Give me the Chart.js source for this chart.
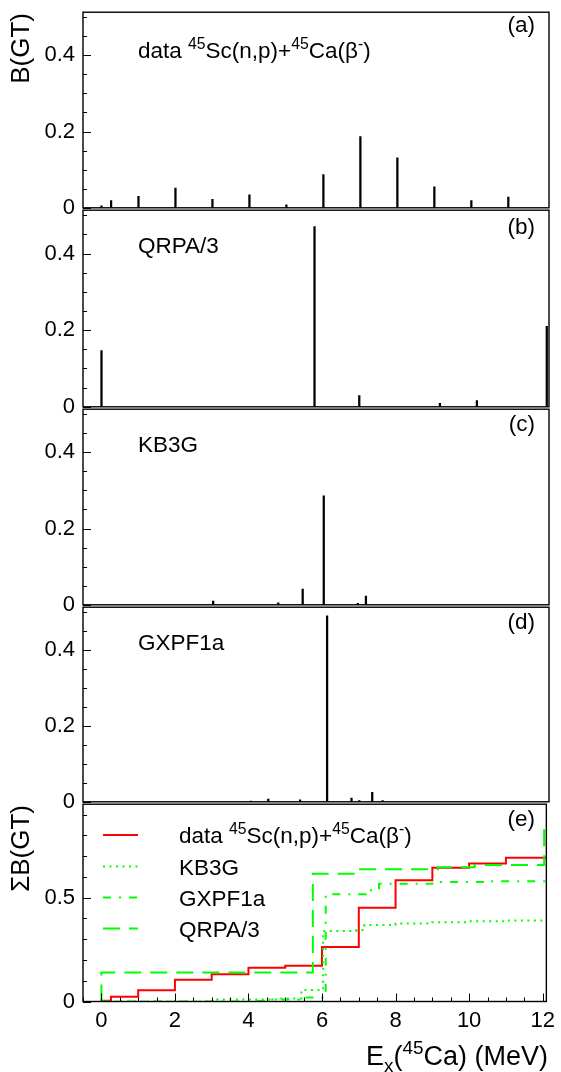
<!DOCTYPE html>
<html><head><meta charset="utf-8">
<script src="https://cdn.jsdelivr.net/npm/chart.js@4.4.1/dist/chart.umd.min.js"></script>
<style>
html,body{margin:0;padding:0;background:#fff;}
#wrap{position:relative;width:561px;height:1072px;overflow:hidden;background:#fff;}
#wrap canvas{position:absolute;left:0;}
</style></head><body><div id="wrap"></div>
<script>
// ---------------- data ----------------
// (a) measured 45Sc(n,p)+45Ca(beta-) B(GT)
const dataEx  = [0.0, 0.26, 1.0, 2.0, 3.0, 4.0, 5.0, 6.0, 7.0, 8.0, 9.0, 10.0, 11.0];
const dataBGT = [0.005, 0.019, 0.030, 0.052, 0.022, 0.034, 0.008, 0.087, 0.187, 0.131, 0.055, 0.019, 0.028];
// (b) QRPA/3
const qrpaEx  = [0.0, 5.76, 6.97, 9.15, 10.15, 12.04];
const qrpaBGT = [0.147, 0.470, 0.029, 0.009, 0.016, 0.210];
// (c) KB3G
const kb3gEx  = [3.02, 4.78, 5.44, 6.01, 6.93, 7.15];
const kb3gBGT = [0.010, 0.005, 0.041, 0.286, 0.004, 0.023];
// (d) GXPF1a
const gxpfEx  = [4.04, 4.51, 5.37, 6.10, 6.76, 6.97, 7.32, 7.60];
const gxpfBGT = [0.002, 0.007, 0.005, 0.490, 0.010, 0.003, 0.025, 0.003];

// (e) running sums
const sumDataEx = [0, 0.26, 1, 2, 3, 4, 5, 6, 7, 8, 9, 10, 11, 12.1];
const sumDataB  = [0.004, 0.023, 0.054, 0.105, 0.131, 0.163, 0.172, 0.262, 0.452, 0.584, 0.644, 0.665, 0.692, 0.692];
const sumKb3gEx = [0, 3.02, 4.78, 5.44, 6.03, 6.93, 7.15, 8.0, 9.0, 10.0, 11.0, 12.1];
const sumKb3gB  = [0.0, 0.010, 0.015, 0.055, 0.340, 0.344, 0.368, 0.376, 0.382, 0.386, 0.390, 0.392];
const sumGxpfEx = [0, 4.04, 4.51, 5.37, 6.10, 7.20, 7.55, 9.0, 10.5, 12.1];
const sumGxpfB  = [0.0, 0.003, 0.010, 0.019, 0.516, 0.536, 0.567, 0.575, 0.579, 0.581];
const sumQrpaEx = [0, 0, 5.75, 6.97, 9.15, 10.15, 12.04];
const sumQrpaB  = [0, 0.140, 0.615, 0.637, 0.646, 0.657, 0.860];

// axes / ticks
const xRange = [-0.5, 12.1];
const xTickValues = [0, 2, 4, 6, 8, 10, 12];
const xTickLabels = ['0', '2', '4', '6', '8', '10', '12'];
const yRangeTop = 0.513;          // panels a-d
const yTickValues = [0, 0.2, 0.4];
const yTickLabels = ['0', '0.2', '0.4'];
const yRangeSum = 0.95;           // panel e
const ySumTickValues = [0, 0.5];
const ySumTickLabels = ['0', '0.5'];

// texts ([text, 0=normal 1=superscript -1=subscript])
const txtData   = [['data ',0],['45',1],['Sc(n,p)+',0],['45',1],['Ca(\u03B2',0],['-',1],[')',0]];
const txtQrpa   = [['QRPA/3',0]];
const txtKb3g   = [['KB3G',0]];
const txtGxpf   = [['GXPF1a',0]];
const panelTags = ['(a)','(b)','(c)','(d)','(e)'];
const yTitle    = [['B(GT)',0]];
const ySumTitle = [['\u03A3B(GT)',0]];
const xTitle    = [['E',0],['x',-1],['(',0],['45',1],['Ca) (MeV)',0]];
const legendNames = [txtData, [['KB3G',0]], [['GXPF1a',0]], [['QRPA/3',0]]];

// ---------------- drawing helpers ----------------
const FF = "'Liberation Sans', Arial, Helvetica, sans-serif";
const TICK_SIZE = 22, TEXT_SIZE = 22.5, YTITLE_SIZE = 26, XTITLE_SIZE = 27;
function richWidth(ctx, parts, size){
  let w = 0;
  for (const [t,s] of parts){ ctx.font = (s ? size*0.7 : size) + 'px ' + FF; w += ctx.measureText(t).width; }
  return w;
}
function drawRich(ctx, parts, x, y, size, align){
  let cx = align === 'right' ? x - richWidth(ctx, parts, size) : x;
  ctx.textAlign = 'left'; ctx.textBaseline = 'alphabetic'; ctx.fillStyle = '#000';
  for (const [t,s] of parts){
    const fs = s ? size*0.7 : size;
    ctx.font = fs + 'px ' + FF;
    const dy = s === 1 ? -size*0.42 : (s === -1 ? size*0.25 : 0);
    ctx.fillText(t, cx, y + dy);
    cx += ctx.measureText(t).width;
  }
}

const framePlugin = {
  id: 'frame',
  afterDatasetsDraw(chart, args, o){
    const {ctx, chartArea: a} = chart;
    const x = chart.scales.x, y = chart.scales.y;
    const off = o.canvasTop;
    ctx.save();
    ctx.strokeStyle = '#000'; ctx.lineWidth = 1.4; ctx.setLineDash([]);
    ctx.strokeRect(a.left, a.top, a.right - a.left, a.bottom - a.top);
    ctx.lineWidth = 1;
    ctx.beginPath();
    for (let k = 0; k * o.yMinor <= y.max + 1e-9; k++){
      const v = k * o.yMinor;
      const major = o.yMajor.some(m => Math.abs(m - v) < 1e-6);
      const py = Math.round(y.getPixelForValue(v)) + 0.5;
      ctx.moveTo(a.left, py); ctx.lineTo(a.left + (major ? 8 : 4), py);
    }
    if (o.xTicks){
      for (let k = 0; xRange[0] + k*0.5 <= xRange[1] + 1e-9; k++){
        const v = xRange[0] + k*0.5;
        const major = xTickValues.some(m => Math.abs(m - v) < 1e-6);
        const px = Math.round(x.getPixelForValue(v)) + 0.5;
        ctx.moveTo(px, a.bottom); ctx.lineTo(px, a.bottom - (major ? 8 : 4));
      }
    }
    ctx.stroke();
    // texts
    if (o.label) drawRich(ctx, o.label, 138, o.labelY - off, TEXT_SIZE);
    drawRich(ctx, [[o.tag,0]], 535, o.tagY - off, TEXT_SIZE, 'right');
    if (o.ytitle){
      ctx.save(); ctx.translate(29, o.ytitleEnd - off); ctx.rotate(-Math.PI/2);
      drawRich(ctx, o.ytitle, 0, 0, YTITLE_SIZE, 'right'); ctx.restore();
    }
    if (o.xtitle) drawRich(ctx, o.xtitle, 548, 1065 - off, XTITLE_SIZE, 'right');
    if (o.legend){
      const rows = [835, 866.5, 897.5, 928.5];
      chart.data.datasets.forEach((ds) => {
        const r = ds.legendRow;
        const ry = rows[r] - off;
        ctx.save();
        ctx.strokeStyle = ds.borderColor; ctx.lineWidth = ds.borderWidth;
        ctx.setLineDash(ds.borderDash || []);
        ctx.beginPath(); ctx.moveTo(103, ry); ctx.lineTo(138, ry); ctx.stroke();
        ctx.restore();
        drawRich(ctx, legendNames[r], 179, ry + 8, TEXT_SIZE);
      });
    }
    ctx.restore();
  }
};

const wrap = document.getElementById('wrap');
function addCanvas(top, h){
  const c = document.createElement('canvas');
  c.width = 561; c.height = h;
  c.style.top = top + 'px'; c.style.width = '561px'; c.style.height = h + 'px';
  wrap.appendChild(c);
  return c;
}

function yScale(max, vals, labels){
  return {
    type: 'linear', min: 0, max: max,
    grid: {display: false, drawTicks: false}, border: {display: false},
    ticks: {color: '#000', padding: 8, font: {family: FF, size: TICK_SIZE},
            callback: (v) => { const i = vals.findIndex(t => Math.abs(t - v) < 1e-9); return i >= 0 ? labels[i] : ''; }},
    afterBuildTicks: (s) => { s.ticks = vals.map(v => ({value: v})); },
    afterFit: (s) => { s.width = 83; }
  };
}

// panel geometry (pixels)
const panelTop    = [11, 209, 408, 606, 803];
const panelBottom = [209, 408, 606, 803, 1001.5];

const barSets = [
  {ex: dataEx, b: dataBGT, label: txtData, labelY: 58},
  {ex: qrpaEx, b: qrpaBGT, label: txtQrpa, labelY: 253},
  {ex: kb3gEx, b: kb3gBGT, label: txtKb3g, labelY: 452},
  {ex: gxpfEx, b: gxpfBGT, label: txtGxpf, labelY: 650}
];
const tagY = [32, 234, 431, 629, 826];

barSets.forEach((p, i) => {
  const pad = 20;
  const cTop = panelTop[i] - pad;
  const h = panelBottom[i] - panelTop[i] + 2*pad;
  const c = addCanvas(cTop, h);
  new Chart(c, {
    type: 'bar',
    data: {datasets: [{
      data: p.ex.map((x, k) => ({x: x, y: p.b[k]})),
      backgroundColor: '#000', borderWidth: 0, barThickness: 1.6
    }]},
    options: {
      responsive: false, animation: false, events: [],
      layout: {padding: {left: 0, right: 12, top: pad, bottom: pad}},
      plugins: {legend: {display: false}, tooltip: {enabled: false},
        frame: {canvasTop: cTop, yMinor: 0.05, yMajor: yTickValues, xTicks: false,
                label: p.label, labelY: p.labelY, tag: panelTags[i], tagY: tagY[i],
                ytitle: i === 0 ? yTitle : null, ytitleEnd: 13}},
      scales: {
        x: {type: 'linear', min: xRange[0], max: xRange[1], display: false, offset: false, grid: {offset: false}},
        y: yScale(yRangeTop, yTickValues, yTickLabels)
      }
    },
    plugins: [framePlugin]
  });
});

// panel (e)
(function(){
  const pad = 20;
  const cTop = panelTop[4] - pad;
  const h = 1072 - cTop;
  const c = addCanvas(cTop, h);
  const chartBottom = panelBottom[4] - cTop;
  const mk = (ex, b) => ex.map((x, k) => ({x: x, y: b[k]}));
  const green = '#00ff00';
  new Chart(c, {
    type: 'line',
    data: {datasets: [
      {data: mk(sumKb3gEx, sumKb3gB), borderColor: green, borderWidth: 2, borderDash: [2, 4.5], stepped: true, pointRadius: 0, legendRow: 1},
      {data: mk(sumGxpfEx, sumGxpfB), borderColor: green, borderWidth: 2, borderDash: [8, 8, 2, 8], stepped: true, pointRadius: 0, legendRow: 2},
      {data: mk(sumQrpaEx, sumQrpaB), borderColor: green, borderWidth: 2, borderDash: [17, 9], stepped: true, pointRadius: 0, legendRow: 3},
      {data: mk(sumDataEx, sumDataB), borderColor: '#ff0000', borderWidth: 2, stepped: true, pointRadius: 0, legendRow: 0}
    ]},
    options: {
      responsive: false, animation: false, events: [],
      layout: {padding: {left: 0, right: 12, top: pad, bottom: 0}},
      plugins: {legend: {display: false}, tooltip: {enabled: false},
        frame: {canvasTop: cTop, yMinor: 0.1, yMajor: ySumTickValues, xTicks: true,
                label: null, tag: panelTags[4], tagY: tagY[4],
                ytitle: ySumTitle, ytitleEnd: 805, xtitle: xTitle, legend: true}},
      scales: {
        x: {type: 'linear', min: xRange[0], max: xRange[1],
            grid: {display: false, drawTicks: false}, border: {display: false},
            ticks: {color: '#000', padding: 6, maxRotation: 0, font: {family: FF, size: TICK_SIZE},
                    callback: (v) => { const i = xTickValues.findIndex(t => Math.abs(t - v) < 1e-9); return i >= 0 ? xTickLabels[i] : ''; }},
            afterBuildTicks: (s) => { s.ticks = xTickValues.map(v => ({value: v})); },
            afterFit: (s) => { s.height = h - chartBottom; }},
        y: yScale(yRangeSum, ySumTickValues, ySumTickLabels)
      }
    },
    plugins: [framePlugin]
  });
})();
</script></body></html>
